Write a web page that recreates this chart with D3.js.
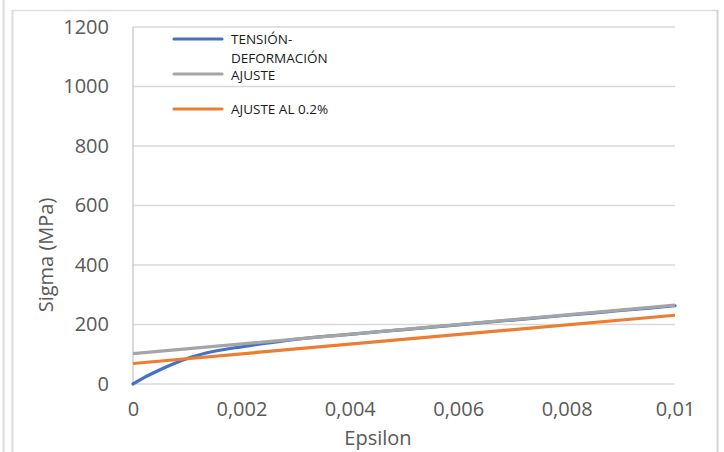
<!DOCTYPE html>
<html><head><meta charset="utf-8">
<script src="https://cdn.jsdelivr.net/npm/d3@7"></script>
<style>html,body{margin:0;padding:0;background:#fff;}svg{display:block;}</style>
</head><body>
<svg id="c" width="724" height="452"></svg>
<script>
// Data
const seriesNames = ["TENSIÓN-DEFORMACIÓN", "AJUSTE", "AJUSTE AL 0.2%"];
const tensionEps = [0, 0.00025, 0.0005, 0.00075, 0.001, 0.0015, 0.002, 0.0025, 0.003, 0.004, 0.005, 0.006, 0.007, 0.008, 0.009, 0.01];
const tensionSigma = [0, 26, 48, 68, 86, 110, 125, 138, 150, 167, 183, 199, 215, 231, 247, 263];
const ajusteEps = [0, 0.01];
const ajusteSigma = [102, 265];
const ajuste02Eps = [0, 0.01];
const ajuste02Sigma = [69, 231];
const xTicks = [0, 0.002, 0.004, 0.006, 0.008, 0.01];
const xTickLabels = ["0", "0,002", "0,004", "0,006", "0,008", "0,01"];
const yTicks = [0, 200, 400, 600, 800, 1000, 1200];
const yTickLabels = ["0", "200", "400", "600", "800", "1000", "1200"];
const colors = ["#4472C4", "#A5A5A5", "#ED7D31"];

const svg = d3.select("#c");
const font = "'Open Sans', 'Liberation Sans', sans-serif";

// outer frame lines
svg.append("line").attr("x1",3.5).attr("x2",3.5).attr("y1",0).attr("y2",452).attr("stroke","#dcdcdc").attr("stroke-width",2);
svg.append("line").attr("x1",12.5).attr("x2",12.5).attr("y1",10).attr("y2",452).attr("stroke","#dcdcdc").attr("stroke-width",2);
svg.append("line").attr("x1",12).attr("x2",718).attr("y1",10.5).attr("y2",10.5).attr("stroke","#dcdcdc").attr("stroke-width",1.5);
svg.append("line").attr("x1",717.5).attr("x2",717.5).attr("y1",10).attr("y2",452).attr("stroke","#d4d4d4").attr("stroke-width",2);

const x = d3.scaleLinear().domain([0, 0.01]).range([133, 675]);
const y = d3.scaleLinear().domain([0, 1200]).range([384, 27]);

// gridlines
svg.append("g").selectAll("line").data(yTicks).join("line")
  .attr("x1", x(0)).attr("x2", x(0.01))
  .attr("y1", d => y(d)).attr("y2", d => y(d))
  .attr("stroke", "#d9d9d9").attr("stroke-width", 1.3);

// y axis line
svg.append("line").attr("x1", x(0)).attr("x2", x(0)).attr("y1", y(1200)).attr("y2", y(0))
  .attr("stroke", "#c8c8c8").attr("stroke-width", 1.3);

// axes labels via d3 axis
const yAxis = d3.axisLeft(y).tickValues(yTicks).tickFormat((d,i) => yTickLabels[i]).tickSize(0).tickPadding(24);
const gy = svg.append("g").attr("transform", `translate(${x(0)},0)`).call(yAxis);
gy.select(".domain").remove();
gy.selectAll("text").attr("font-family", font).attr("font-size", 20).attr("fill", "#595959");

const xAxis = d3.axisBottom(x).tickValues(xTicks).tickFormat((d,i) => xTickLabels[i]).tickSize(0).tickPadding(18);
const gx = svg.append("g").attr("transform", `translate(0,${y(0)})`).call(xAxis);
gx.select(".domain").remove();
gx.selectAll("text").attr("font-family", font).attr("font-size", 20).attr("fill", "#595959");

// axis titles
svg.append("text").attr("x", 378).attr("y", 445).attr("text-anchor", "middle")
  .attr("font-family", font).attr("font-size", 20).attr("fill", "#595959").text("Epsilon");
svg.append("text").attr("transform", "translate(53,255) rotate(-90)").attr("text-anchor", "middle")
  .attr("font-family", font).attr("font-size", 20).attr("fill", "#595959").text("Sigma (MPa)");

// lines
const line = d3.line().x(d => x(d[0])).y(d => y(d[1]));
const smooth = d3.line().x(d => x(d[0])).y(d => y(d[1])).curve(d3.curveMonotoneX);
svg.append("path").datum(tensionEps.map((e,i) => [e, tensionSigma[i]]))
  .attr("d", smooth).attr("fill", "none").attr("stroke", colors[0]).attr("stroke-width", 3.2).attr("stroke-linecap","round");
svg.append("path").datum(ajusteEps.map((e,i) => [e, ajusteSigma[i]]))
  .attr("d", line).attr("fill", "none").attr("stroke", colors[1]).attr("stroke-width", 3.2);
svg.append("path").datum(ajuste02Eps.map((e,i) => [e, ajuste02Sigma[i]]))
  .attr("d", line).attr("fill", "none").attr("stroke", colors[2]).attr("stroke-width", 3.2);

// legend
const legY = [39, 74, 109];
const lg = svg.append("g");
seriesNames.forEach((n, i) => {
  lg.append("line").attr("x1", 174).attr("x2", 222).attr("y1", legY[i]).attr("y2", legY[i])
    .attr("stroke", colors[i]).attr("stroke-width", 3.2).attr("stroke-linecap","round");
});
const lt = (txt, yy) => lg.append("text").attr("x", 231).attr("y", yy)
  .attr("font-family", font).attr("font-size", 13.5).attr("fill", "#1a1a1a").text(txt);
lt("TENSIÓN-", 44);
lt("DEFORMACIÓN", 63);
lt("AJUSTE", 80);
lt("AJUSTE AL 0.2%", 114);
</script>
</body></html>
